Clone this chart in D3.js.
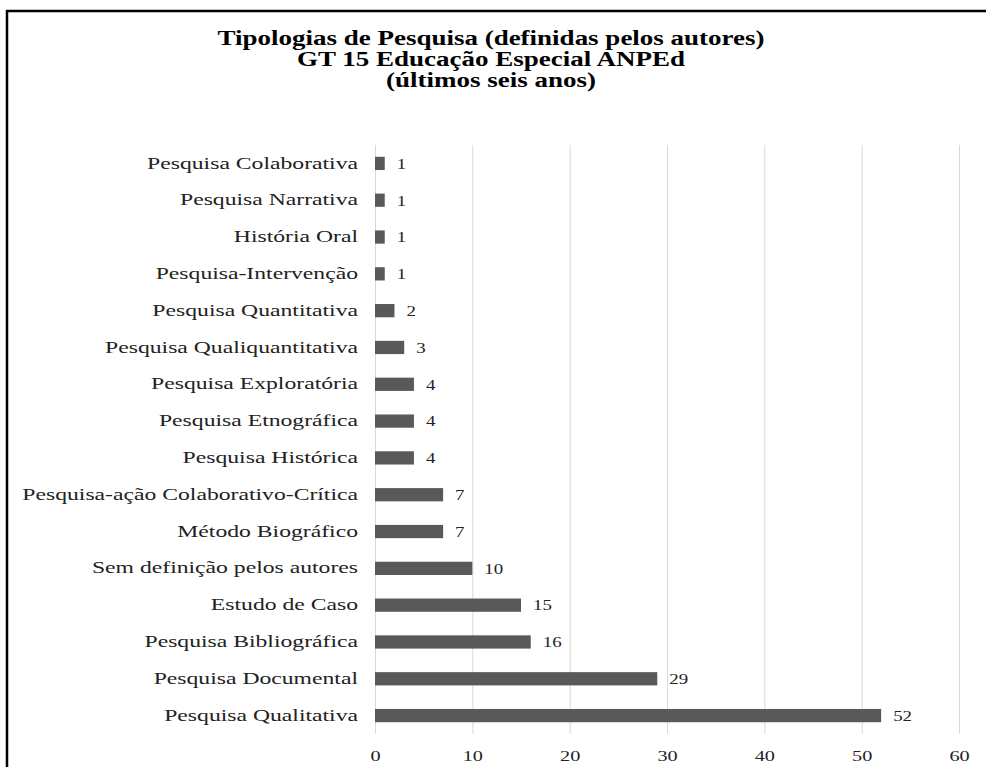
<!DOCTYPE html>
<html>
<head>
<meta charset="utf-8">
<script src="https://cdn.jsdelivr.net/npm/d3@7/dist/d3.min.js"></script>
<style>
  body { margin:0; background:#fff; }
  text { font-family: "Liberation Serif", "Times New Roman", serif; }
</style>
</head>
<body>
<div id="chart"></div>
<script>
// categories top to bottom, as in the picture
const categories = [
  "Pesquisa Colaborativa", "Pesquisa Narrativa", "História Oral", "Pesquisa-Intervenção",
  "Pesquisa Quantitativa", "Pesquisa Qualiquantitativa", "Pesquisa Exploratória",
  "Pesquisa Etnográfica", "Pesquisa Histórica", "Pesquisa-ação Colaborativo-Crítica",
  "Método Biográfico", "Sem definição pelos autores", "Estudo de Caso",
  "Pesquisa Bibliográfica", "Pesquisa Documental", "Pesquisa Qualitativa"
]
const values = [1, 1, 1, 1, 2, 3, 4, 4, 4, 7, 7, 10, 15, 16, 29, 52]
const xTicks = [0, 10, 20, 30, 40, 50, 60]
const titleLines = [
  "Tipologias de Pesquisa (definidas pelos autores)",
  "GT 15 Educação Especial ANPEd",
  "(últimos seis anos)"
]

const data = categories.map((c, i) => ({cat: c, val: values[i]}))

let size = {width: 986, height: 767}
let margin = {top: 145, left: 375, right: 27, bottom: 33}
let w = size.width - margin.left - margin.right
let h = size.height - margin.top - margin.bottom
// the original picture is stretched sideways, so text gets a horizontal scale
let sx = 1.48, sxTitle = 1.35, sxNum = 1.35

const svg = d3.select("#chart").append("svg")
  .attr("width", size.width).attr("height", size.height)

// frame around the figure
svg.append("path")
  .attr("d", `M7,${size.height} V11 H${size.width}`)
  .attr("fill", "none").attr("stroke", "#000").attr("stroke-width", 2.5)

svg.append("text")
  .attr("transform", `scale(${sxTitle},1)`)
  .attr("y", 45)
  .attr("text-anchor", "middle")
  .attr("font-size", 20).attr("font-weight", "bold")
  .selectAll("tspan").data(titleLines).enter().append("tspan")
  .attr("x", 491 / sxTitle).attr("dy", (d, i) => i ? 21 : 0)
  .text(d => d)

const x = d3.scaleLinear().domain([0, 60]).range([0, w])
const y = d3.scaleBand().domain(categories).range([0, h]).paddingInner(0.64).paddingOuter(0.32)

const g = svg.append("g").attr("transform", `translate(${margin.left},${margin.top})`)

const xAxis = d3.axisBottom(x).tickValues(xTicks).tickSize(-h).tickPadding(16)
const xg = g.append("g").attr("transform", `translate(0,${h})`).call(xAxis)
xg.select(".domain").remove()
xg.selectAll("line").attr("stroke", "#d9d9d9")
xg.selectAll("text").attr("font-size", 15).attr("fill", "#222")
  .attr("transform", `scale(${sxNum},1)`)
  .style("font-family", '"Liberation Serif", serif')

const yAxis = d3.axisLeft(y).tickSize(0).tickPadding(17)
const yg = g.append("g").call(yAxis)
yg.select(".domain").remove()
yg.selectAll("text").attr("font-size", 16).attr("fill", "#222")
  .attr("x", -17 / sx)
  .attr("transform", `scale(${sx},1)`)
  .style("font-family", '"Liberation Serif", serif')

g.selectAll("rect.bar").data(data).enter().append("rect")
  .attr("class", "bar")
  .attr("x", 0)
  .attr("y", d => y(d.cat))
  .attr("width", d => x(d.val))
  .attr("height", y.bandwidth())
  .attr("fill", "#595959")

g.selectAll("text.lbl").data(data).enter().append("text")
  .attr("class", "lbl")
  .attr("transform", `scale(${sxNum},1)`)
  .attr("x", d => (x(d.val) + 12) / sxNum)
  .attr("y", d => y(d.cat) + y.bandwidth() / 2)
  .attr("dy", "0.38em")
  .attr("font-size", 14).attr("fill", "#222")
  .text(d => d.val)
</script>
</body>
</html>
